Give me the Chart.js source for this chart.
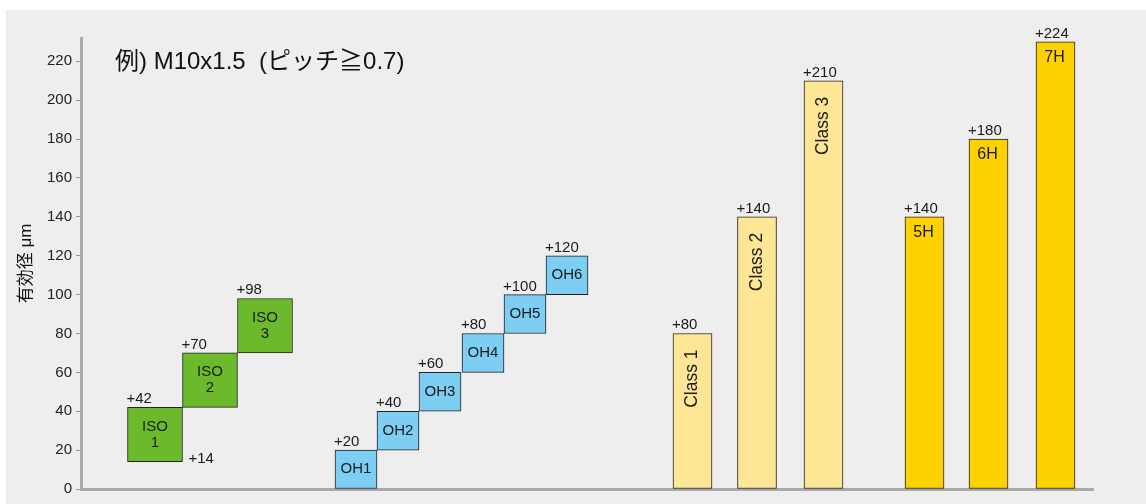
<!DOCTYPE html>
<html>
<head>
<meta charset="utf-8">
<script src="https://cdn.jsdelivr.net/npm/chart.js@4"></script>
<style>
    body { margin: 0; background: #ffffff; }
    .panel { position: absolute; left: 6px; top: 10px; width: 1140px; height: 494px; background: #eeeeee; }
    #tolerance { position: absolute; left: 0; top: 0; }
</style>
</head>
<body>
<div class="panel"></div>
<canvas id="tolerance" width="1146" height="504"></canvas>
<script>
// tolerance zones per standard (μm)
const isoNames = ["ISO\n1", "ISO\n2", "ISO\n3"];
const isoLow = [14, 42, 70];
const isoHigh = [42, 70, 98];
const isoPos = [74, 129, 184];

const ohNames = ["OH1", "OH2", "OH3", "OH4", "OH5", "OH6"];
const ohLow = [0, 20, 40, 60, 80, 100];
const ohHigh = [20, 40, 60, 80, 100, 120];
const ohPos = [275, 317, 359, 402, 444, 486];

const classNames = ["Class 1", "Class 2", "Class 3"];
const classLow = [0, 0, 0];
const classHigh = [80, 140, 210];
const classPos = [611.5, 676, 742.5];

const hNames = ["5H", "6H", "7H"];
const hLow = [0, 0, 0];
const hHigh = [140, 180, 230];
const hPos = [843.5, 907.5, 974.5];

// text printed above each bar, and the one lower-limit note
const topLabels = [
    ["+42", "+70", "+98"],
    ["+20", "+40", "+60", "+80", "+100", "+120"],
    ["+80", "+140", "+210"],
    ["+140", "+180", "+224"],
];
const lowLabels = [["+14", "", ""], [], [], []];

const yTickStep = 20;
const yMax = 232;

const FONT = "'Liberation Sans', Arial, 'Noto Sans CJK JP', sans-serif";

const makeData = (pos, low, high) => pos.map((x, i) => ({ x: x, y: [low[i], high[i]] }));

const labelPlugin = {
    id: "barLabels",
    afterDatasetsDraw(chart) {
        const ctx = chart.ctx;
        ctx.save();
        ctx.fillStyle = "#1a1a1a";
        chart.data.datasets.forEach((ds, d) => {
            const meta = chart.getDatasetMeta(d);
            meta.data.forEach((bar, i) => {
                const left = bar.x - bar.width / 2;
                const right = bar.x + bar.width / 2;
                // value above the bar
                ctx.font = "15px " + FONT;
                ctx.textAlign = "left";
                ctx.textBaseline = "alphabetic";
                ctx.fillText(topLabels[d][i], left - 1, bar.y - 4);
                if (lowLabels[d][i]) {
                    ctx.fillText(lowLabels[d][i], right + 6, bar.base + 1);
                }
                // name inside the bar
                const name = ds.names[i];
                ctx.font = "15px " + FONT;
                if (ds.labelStyle === "box") {
                    const lines = name.split("\n");
                    const mid = (bar.y + bar.base) / 2;
                    ctx.textAlign = "center";
                    ctx.textBaseline = "middle";
                    lines.forEach((line, k) => {
                        ctx.fillText(line, bar.x, mid + (k - (lines.length - 1) / 2) * 16);
                    });
                } else if (ds.labelStyle === "rotated") {
                    ctx.save();
                    ctx.font = "17.5px " + FONT;
                    ctx.translate(bar.x, bar.y + 16);
                    ctx.rotate(-Math.PI / 2);
                    ctx.textAlign = "right";
                    ctx.textBaseline = "middle";
                    ctx.fillText(name, 0, 0);
                    ctx.restore();
                } else {
                    ctx.font = "16px " + FONT;
                    ctx.textAlign = "center";
                    ctx.textBaseline = "middle";
                    ctx.fillText(name, bar.x - 1, bar.y + 16);
                }
            });
        });
        // caption
        ctx.font = "24px " + FONT;
        ctx.textAlign = "left";
        ctx.textBaseline = "middle";
        ctx.fillStyle = "#111";
        ctx.fillText("例) M10x1.5  (ピッチ≧0.7)", chart.chartArea.left + 34, 62);
        ctx.restore();
    },
};

const toleranceChart = new Chart(document.getElementById("tolerance"), {
    type: "bar",
    data: {
        datasets: [
            {
                names: isoNames,
                labelStyle: "box",
                data: makeData(isoPos, isoLow, isoHigh),
                backgroundColor: "#6cb92b",
                borderColor: "#222222",
                borderWidth: 1,
                borderSkipped: false,
                barThickness: 55,
            },
            {
                names: ohNames,
                labelStyle: "box",
                data: makeData(ohPos, ohLow, ohHigh),
                backgroundColor: "#7ecdf2",
                borderColor: "#222222",
                borderWidth: 1,
                borderSkipped: false,
                barThickness: 42,
            },
            {
                names: classNames,
                labelStyle: "rotated",
                data: makeData(classPos, classLow, classHigh),
                backgroundColor: "#fde796",
                borderColor: "#222222",
                borderWidth: 1,
                borderSkipped: false,
                barThickness: 39,
            },
            {
                names: hNames,
                labelStyle: "top",
                data: makeData(hPos, hLow, hHigh),
                backgroundColor: "#fdd200",
                borderColor: "#222222",
                borderWidth: 1,
                borderSkipped: false,
                barThickness: 39,
            },
        ],
    },
    options: {
        responsive: false,
        animation: false,
        grouped: false,
        layout: { padding: { top: 38, right: 53, bottom: 15, left: 0 } },
        plugins: {
            legend: { display: false },
            tooltip: { enabled: false },
        },
        scales: {
            x: {
                type: "linear",
                offset: false,
                min: 0,
                max: 1012,
                ticks: { display: false },
                grid: { drawOnChartArea: false, drawTicks: false },
                border: { color: "#aaaaaa", width: 3 },
                afterFit: (scale) => { scale.height = 0; },
            },
            y: {
                min: 0,
                max: yMax,
                ticks: {
                    stepSize: yTickStep,
                    color: "#222222",
                    padding: 4,
                    font: { family: FONT, size: 15 },
                },
                afterBuildTicks: (scale) => {
                    scale.ticks = scale.ticks.filter((t) => t.value % yTickStep === 0);
                },
                grid: { drawOnChartArea: false, tickLength: 5, color: "#999999" },
                border: { color: "#aaaaaa", width: 3 },
                title: {
                    display: true,
                    text: "有効径 μm",
                    color: "#111111",
                    font: { family: FONT, size: 17 },
                    padding: { top: 16, bottom: 0 },
                },
                afterFit: (scale) => { scale.width = 81; },
            },
        },
    },
    plugins: [labelPlugin],
});
</script>
</body>
</html>
